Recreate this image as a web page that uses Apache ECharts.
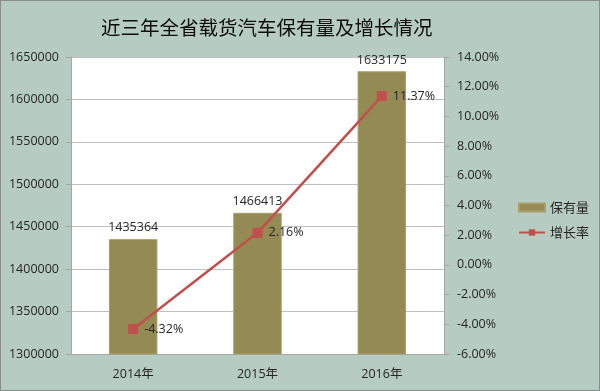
<!DOCTYPE html>
<html><head><meta charset="utf-8">
<script src="https://cdn.jsdelivr.net/npm/echarts@6/dist/echarts.min.js"></script>
<style>html,body{margin:0;padding:0;}#c{width:600px;height:391px;}</style>
</head><body><div id="c"></div>
<script>
const categories = ['2014年', '2015年', '2016年'];
const holdings = [1435364, 1466413, 1633175];
const growth = [-4.32, 2.16, 11.37];
const leftTicks = [1300000, 1650000, 50000];
const rightTicks = [-6, 14, 2];

const chart = echarts.init(document.getElementById('c'));
const txt = '#262626';
const fontF = '"Open Sans", "Noto Sans CJK SC", sans-serif';
chart.setOption({
  backgroundColor: '#b6ccc2',
  animation: false,
  textStyle: { fontFamily: fontF },
  title: {
    text: '近三年全省载货汽车保有量及增长情况',
    left: 96, top: 13,
    textStyle: { fontSize: 19.5, fontWeight: 'normal', color: '#0d0d0d', fontFamily: '"Noto Sans CJK SC", sans-serif' }
  },
  grid: { left: 71, right: 156, top: 57, bottom: 37, show: true, backgroundColor: '#ffffff', borderWidth: 0 },
  legend: {
    orient: 'vertical', left: 513, top: 196, itemGap: 12,
    itemWidth: 26, itemHeight: 8,
    textStyle: { fontSize: 13, color: '#262626', fontFamily: '"Noto Sans CJK SC", sans-serif' },
    data: [
      { name: '保有量', icon: 'rect' },
      { name: '增长率' }
    ]
  },
  xAxis: {
    type: 'category', data: categories,
    axisLine: { onZero: false, lineStyle: { color: '#a6a6a6' } },
    axisTick: { show: false },
    axisLabel: { color: txt, fontSize: 12.5, margin: 14 }
  },
  yAxis: [
    {
      type: 'value', min: leftTicks[0], max: leftTicks[1], interval: leftTicks[2],
      axisLine: { show: true, lineStyle: { color: '#a6a6a6' } },
      axisTick: { show: true, length: 5, lineStyle: { color: '#a6a6a6' } },
      splitLine: { lineStyle: { color: '#bfbfbf' } },
      axisLabel: { color: txt, fontSize: 12.5, margin: 12, formatter: v => String(v) }
    },
    {
      type: 'value', min: rightTicks[0], max: rightTicks[1], interval: rightTicks[2],
      axisLine: { show: true, lineStyle: { color: '#a6a6a6' } },
      axisTick: { show: true, length: 5, lineStyle: { color: '#a6a6a6' } },
      splitLine: { show: false },
      axisLabel: { color: txt, fontSize: 12.5, margin: 13, formatter: v => v.toFixed(2) + '%' }
    }
  ],
  series: [
    {
      name: '保有量', type: 'bar', data: holdings, barWidth: '39%',
      itemStyle: { color: '#948a54', borderColor: '#a89e6a', borderWidth: 1 },
      label: { show: true, position: 'top', color: txt, fontSize: 12.5, distance: 5 }
    },
    {
      name: '增长率', type: 'line', yAxisIndex: 1, data: growth,
      symbol: 'rect', symbolSize: 10,
      lineStyle: { color: '#c0504d', width: 2.5 },
      itemStyle: { color: '#c0504d' },
      label: { show: true, position: 'right', distance: 6, color: txt, fontSize: 12.5, formatter: p => p.value.toFixed(2) + '%' }
    }
  ]
});
</script>
<div style="position:absolute;left:0;top:0;width:598px;height:389px;border:1px solid #8c8c8c;pointer-events:none;"></div>
</body></html>
